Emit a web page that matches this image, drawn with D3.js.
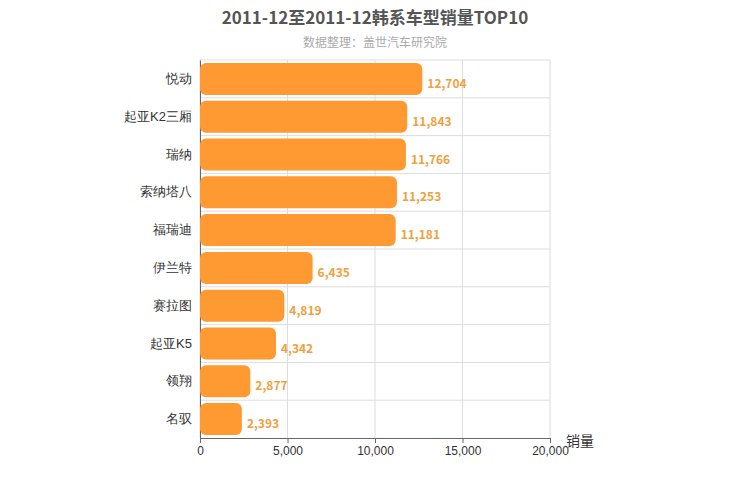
<!DOCTYPE html>
<html><head><meta charset="utf-8">
<script src="https://cdn.jsdelivr.net/npm/d3@7"></script>
<style>body{margin:0;background:#fff;font-family:"Noto Sans CJK SC","Noto Sans",sans-serif}</style>
</head><body><svg id="c" width="750" height="500"></svg>
<script>
const categories=["悦动","起亚K2三厢","瑞纳","索纳塔八","福瑞迪","伊兰特","赛拉图","起亚K5","领翔","名驭"];
const values=[12704,11843,11766,11253,11181,6435,4819,4342,2877,2393];
const ticks=[0,5000,10000,15000,20000];
const svg=d3.select("#c");
const m={l:200,r:550,t:60,b:438};
const x=d3.scaleLinear().domain([0,20000]).range([m.l,m.r]);
const y=d3.scaleBand().domain(categories).range([m.t,m.b]);
svg.append("text").attr("x",375).attr("y",24).attr("text-anchor","middle").attr("font-size",17).attr("font-weight","bold").attr("fill","#555").text("2011-12至2011-12韩系车型销量TOP10");
svg.append("text").attr("x",375).attr("y",47).attr("text-anchor","middle").attr("font-size",12).attr("fill","#aaa").text("数据整理：盖世汽车研究院");
// grid
const g=svg.append("g");
ticks.forEach(t=>g.append("line").attr("x1",x(t)).attr("x2",x(t)).attr("y1",m.t).attr("y2",m.b).attr("stroke","#ddd"));
categories.forEach(c=>g.append("line").attr("x1",m.l).attr("x2",m.r).attr("y1",y(c)).attr("y2",y(c)).attr("stroke","#ddd"));
const ax=svg.append("g").attr("transform",`translate(0,${m.b})`).call(d3.axisBottom(x).tickValues(ticks).tickFormat(d3.format(",")).tickSize(5));
ax.selectAll("text").attr("font-size",12).attr("fill","#333");
ax.selectAll("line,path").attr("stroke","#666");
const ay=svg.append("g").attr("transform",`translate(${m.l},0)`).call(d3.axisLeft(y).tickSize(0).tickPadding(8));
ay.selectAll("text").attr("font-size",13).attr("fill","#333");
ay.selectAll("path").attr("stroke","#666");
svg.append("text").attr("x",580).attr("y",446).attr("text-anchor","middle").attr("font-size",14).attr("fill","#333").text("销量");
const bh=32;
svg.selectAll(".b").data(values).enter().append("rect")
 .attr("x",x(0)).attr("y",(d,i)=>y(categories[i])+(y.bandwidth()-bh)/2)
 .attr("width",d=>x(d)-x(0)).attr("height",bh).attr("rx",6).attr("fill","#ff9a33");
svg.selectAll(".l").data(values).enter().append("text")
 .attr("x",d=>x(d)+5).attr("y",(d,i)=>y(categories[i])+y.bandwidth()/2+9)
 .attr("font-size",12).attr("font-weight","bold").attr("fill","#f0a040").text(d=>d3.format(",")(d));
</script></body></html>
